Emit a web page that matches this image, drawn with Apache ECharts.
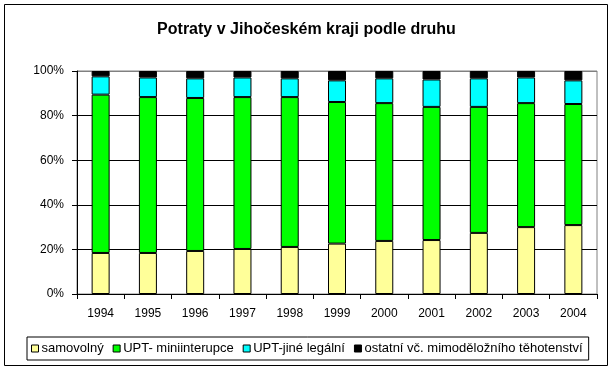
<!DOCTYPE html>
<html><head><meta charset="utf-8">
<script src="https://cdn.jsdelivr.net/npm/echarts@6/dist/echarts.min.js"></script>
<style>html,body{margin:0;padding:0;background:#fff}#c{width:613px;height:371px}</style>
</head><body><div id="c"></div>
<script>
const categories = ['1994','1995','1996','1997','1998','1999','2000','2001','2002','2003','2004'];
const samovolny = [18.4,18.4,19.3,20.2,21.1,22.6,23.8,24.2,27.4,30.0,30.9];
const miniinterupce = [71.0,69.9,68.6,68.1,67.2,63.5,61.8,59.7,56.5,55.6,54.3];
const jineLegalni = [8.2,8.8,8.8,8.8,8.4,9.7,11.1,12.3,12.8,11.5,10.6];
const ostatni = [2.4,2.9,3.3,2.9,3.3,4.2,3.3,3.8,3.3,2.9,4.2];
const seriesNames = ['samovolný','UPT- miniinterupce','UPT-jiné legální','ostatní vč. mimoděložního těhotenství'];
const yTicks = [0,20,40,60,80,100];

const font = 'Liberation Sans, Arial, sans-serif';
const colors = ['#FFFF99','#00FF00','#00FFFF','#000000'];
const dataSets = [samovolny, miniinterupce, jineLegalni, ostatni];

const chart = echarts.init(document.getElementById('c'), null, {renderer:'canvas'});
chart.setOption({
  animation:false,
  backgroundColor:'#fff',
  title:{text:'Potraty v Jihočeském kraji podle druhu', left:'center', top:17,
    textStyle:{fontFamily:font, fontSize:16, fontWeight:'bold', color:'#000'}},
  grid:{left:77, top:71, width:520, height:223, show:true, borderColor:'#808080', borderWidth:1, containLabel:false},
  legend:{data:seriesNames, left:27, top:337, icon:'rect', itemWidth:7, itemHeight:7, itemGap:9,
    borderColor:'#000', borderWidth:1, padding:[5,6,5,4],
    textStyle:{fontFamily:font, fontSize:13, color:'#000', padding:[0,0,0,-2]},
    itemStyle:{borderColor:'#000', borderWidth:1}},
  xAxis:{type:'category', data:categories, boundaryGap:true,
    axisLine:{lineStyle:{color:'#000', width:1}},
    axisTick:{show:true, length:5, lineStyle:{color:'#000'}},
    axisLabel:{fontFamily:font, fontSize:12, color:'#000', margin:14}},
  yAxis:{type:'value', min:0, max:100, interval:20,
    axisLine:{show:true, lineStyle:{color:'#000', width:1}},
    axisTick:{show:true, length:5, lineStyle:{color:'#000'}},
    axisLabel:{fontFamily:font, fontSize:12, color:'#000', margin:13, formatter:'{value}%'},
    splitLine:{show:true, lineStyle:{color:['#000','#000','#000','#000','#000','#808080'], width:1}}},
  series: seriesNames.map((n,i)=>({
    name:n, type:'bar', stack:'a', data:dataSets[i], barWidth:18,
    itemStyle:{color:colors[i], borderColor:'#000', borderWidth:1}
  })),
  graphic:[{type:'rect', shape:{x:4.5,y:4.5,width:603,height:361}, style:{fill:'none', stroke:'#000', lineWidth:1}, silent:true}]
});
</script></body></html>
